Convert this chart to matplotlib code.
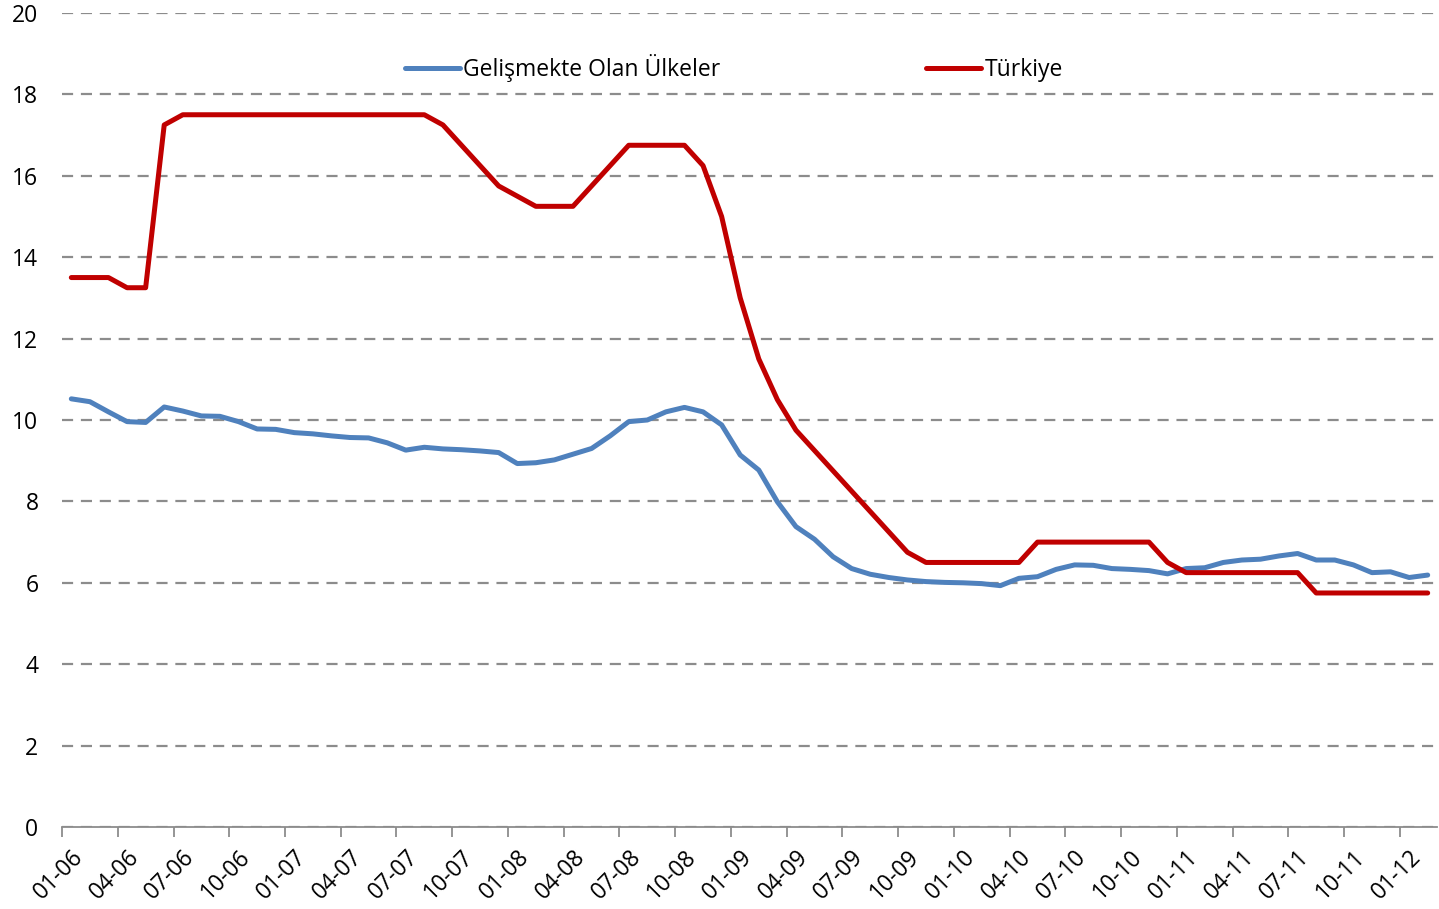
import matplotlib.pyplot as plt
from matplotlib.ticker import FixedLocator

plt.rcParams['font.family'] = ['Open Sans', 'DejaVu Sans']

# monthly, 01-06 .. 02-12
years = ['06', '07', '08', '09', '10', '11', '12']
months = [f"{m:02d}-{y}" for y in years for m in range(1, 13)][:74]

emerging = [10.52, 10.45, 10.20, 9.96, 9.94, 10.32, 10.22, 10.10, 10.09, 9.96,
            9.78, 9.77, 9.69, 9.66, 9.61, 9.57, 9.56, 9.44, 9.26, 9.33,
            9.29, 9.27, 9.24, 9.20, 8.93, 8.95, 9.02, 9.16, 9.30, 9.61,
            9.96, 10.00, 10.20, 10.31, 10.20, 9.88, 9.14, 8.77, 7.99, 7.38,
            7.07, 6.64, 6.35, 6.21, 6.13, 6.07, 6.03, 6.01, 6.00, 5.98,
            5.93, 6.11, 6.15, 6.33, 6.44, 6.43, 6.35, 6.33, 6.30, 6.22,
            6.35, 6.37, 6.50, 6.56, 6.58, 6.66, 6.72, 6.56, 6.56, 6.44,
            6.25, 6.27, 6.13, 6.19]

turkiye = [13.50, 13.50, 13.50, 13.25, 13.25, 17.25, 17.50, 17.50, 17.50, 17.50,
           17.50, 17.50, 17.50, 17.50, 17.50, 17.50, 17.50, 17.50, 17.50, 17.50,
           17.25, 16.75, 16.25, 15.75, 15.50, 15.25, 15.25, 15.25, 15.75, 16.25,
           16.75, 16.75, 16.75, 16.75, 16.25, 15.00, 13.00, 11.50, 10.50, 9.75,
           9.25, 8.75, 8.25, 7.75, 7.25, 6.75, 6.50, 6.50, 6.50, 6.50,
           6.50, 6.50, 7.00, 7.00, 7.00, 7.00, 7.00, 7.00, 7.00, 6.50,
           6.25, 6.25, 6.25, 6.25, 6.25, 6.25, 6.25, 5.75, 5.75, 5.75,
           5.75, 5.75, 5.75, 5.75]

x = list(range(len(months)))

fig = plt.figure(figsize=(14.39, 9.09), dpi=100)
ax = fig.add_axes([0.0431, 0.0902, 0.9555, 0.8955])

ax.plot(x, emerging, color='#4f81bd', lw=3.6, label='Gelişmekte Olan Ülkeler',
        solid_capstyle='round', solid_joinstyle='round')
ax.plot(x, turkiye, color='#c00000', lw=3.6, label='Türkiye',
        solid_capstyle='round', solid_joinstyle='round')

ax.set_xlim(-0.5, len(months) - 0.5)
ax.set_ylim(0, 20)
ax.set_yticks(range(0, 21, 2))
ax.yaxis.grid(True, linestyle=(0, (5, 3.5)), color='#8c8c8c', lw=1.6)
ax.set_axisbelow(True)
ax.tick_params(axis='y', length=0, pad=17, labelsize=16.5)

# tick marks on category borders, labels on every 3rd category centre
ax.xaxis.set_major_locator(FixedLocator([i - 0.5 for i in range(0, len(months), 3)]))
ax.xaxis.set_major_formatter(plt.NullFormatter())
ax.xaxis.set_minor_locator(FixedLocator(list(range(0, len(months), 3))))
ax.set_xticklabels([months[i] for i in range(0, len(months), 3)], minor=True,
                   rotation=45, ha='right', rotation_mode='anchor')
ax.tick_params(axis='x', which='major', length=7, width=1.3, color='#8c8c8c')
ax.tick_params(axis='x', which='minor', length=0, pad=13, labelsize=16.5)

for s in ['left', 'right', 'top']:
    ax.spines[s].set_visible(False)
ax.spines['bottom'].set_color('#8c8c8c')
ax.spines['bottom'].set_linewidth(1.3)

fig.legend(loc='center', bbox_to_anchor=(0.51, 0.925), ncol=2, frameon=False,
           fontsize=16.5, handlelength=2.4, handletextpad=0.15, columnspacing=9.0)

fig.savefig('out.png', dpi=100)
